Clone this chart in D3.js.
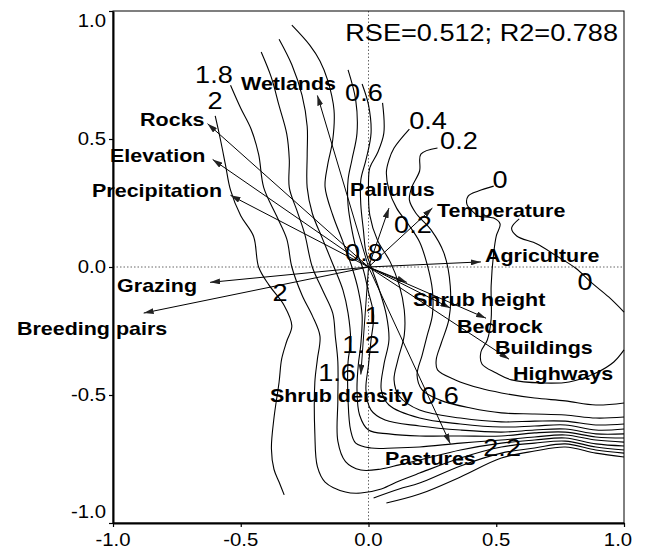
<!DOCTYPE html>
<html>
<head>
<meta charset="utf-8">
<style>
  body { margin: 0; background: #fff; }
  svg text { font-family: "Liberation Sans", Arial, sans-serif; fill: #000; }
  .contour { fill: none; stroke: #000; stroke-width: 1.1; }
  .arrow { stroke: #000; stroke-width: 1; }
</style>
</head>
<body>
<div id="canvas"></div>
<script src="https://cdn.jsdelivr.net/npm/d3@7"></script>
<script>
var xTicks = [-1, -0.5, 0, 0.5, 1];
var xTickLabels = ["-1.0", "-0.5", "0.0", "0.5", "1.0"];
var yTicks = [-1, -0.5, 0, 0.5, 1];
var yTickLabels = ["-1.0", "-0.5", "0.0", "0.5", "1.0"];

var fitText = "RSE=0.512; R2=0.788";

// explanatory variables (arrow tips) and where their names sit
var variables = ["Wetlands", "Rocks", "Elevation", "Precipitation", "Paliurus", "Temperature",
  "Agriculture", "Shrub height", "Bedrock", "Buildings", "Highways", "Grazing",
  "Breeding pairs", "Shrub density", "Pastures"];
var arrowTips = [[-0.20, 0.67], [-0.63, 0.56], [-0.61, 0.42], [-0.54, 0.28], [0.08, 0.23], [0.25, 0.23],
  [0.44, 0.02], [0.15, -0.06], [0.32, -0.16], [0.46, -0.20], [0.55, -0.36], [-0.62, -0.06],
  [-0.88, -0.18], [-0.03, -0.42], [0.32, -0.69]];
var labelAt = [[-0.499, 0.719], [-0.894, 0.578], [-1.012, 0.438], [-1.082, 0.301], [-0.072, 0.305], [0.268, 0.223],
  [0.456, 0.047], [0.174, -0.125], [0.346, -0.230], [0.495, -0.313], [0.566, -0.414], [-0.984, -0.070],
  [-1.376, -0.238], [-0.386, -0.500], [0.065, -0.746]];

// contour isolines of the fitted surface
var c20 = [[-0.60,0.59],[-0.58,0.50],[-0.56,0.40],[-0.54,0.30],[-0.50,0.20],[-0.45,0.12],[-0.43,0.00],[-0.39,-0.07],[-0.33,-0.15],[-0.30,-0.23],[-0.32,-0.29],[-0.34,-0.36],[-0.35,-0.45],[-0.37,-0.59],[-0.38,-0.71],[-0.37,-0.79],[-0.35,-0.84],[-0.33,-0.89]];
var c20b = [[0.02,-0.902],[0.12,-0.867],[0.20,-0.844],[0.36,-0.777],[0.52,-0.727],[0.65,-0.707],[0.77,-0.691],[0.89,-0.715],[1.00,-0.727]];
var c22 = [[0.07,-0.922],[0.20,-0.887],[0.36,-0.82],[0.52,-0.746],[0.65,-0.719],[0.77,-0.703],[0.89,-0.727],[1.00,-0.742]];
var c18 = [[-0.54,0.71],[-0.50,0.62],[-0.46,0.54],[-0.43,0.44],[-0.41,0.31],[-0.36,0.20],[-0.32,0.11],[-0.30,0.00],[-0.26,-0.11],[-0.22,-0.19],[-0.19,-0.27],[-0.20,-0.36],[-0.21,-0.45],[-0.21,-0.65],[-0.20,-0.78],[-0.17,-0.84],[-0.09,-0.879],[-0.03,-0.883],[0.05,-0.867],[0.12,-0.836],[0.20,-0.805],[0.36,-0.746],[0.52,-0.703],[0.65,-0.688],[0.77,-0.680],[0.89,-0.703],[1.00,-0.715]];
var c16 = [[-0.42,0.84],[-0.38,0.74],[-0.35,0.63],[-0.32,0.52],[-0.31,0.42],[-0.31,0.31],[-0.28,0.22],[-0.25,0.13],[-0.22,0.00],[-0.18,-0.09],[-0.14,-0.18],[-0.13,-0.27],[-0.12,-0.37],[-0.12,-0.52],[-0.12,-0.68],[-0.09,-0.76],[-0.03,-0.793],[0.05,-0.789],[0.12,-0.773],[0.20,-0.754],[0.36,-0.715],[0.52,-0.688],[0.65,-0.676],[0.77,-0.668],[0.89,-0.691],[1.00,-0.699]];
var c14 = [[-0.35,0.89],[-0.30,0.79],[-0.26,0.67],[-0.24,0.55],[-0.24,0.44],[-0.24,0.31],[-0.22,0.21],[-0.18,0.11],[-0.135,0.00],[-0.10,-0.09],[-0.08,-0.18],[-0.07,-0.29],[-0.08,-0.37],[-0.08,-0.52],[-0.07,-0.637],[-0.05,-0.688],[0.01,-0.707],[0.10,-0.707],[0.20,-0.703],[0.36,-0.688],[0.52,-0.676],[0.65,-0.664],[0.77,-0.656],[0.89,-0.676],[1.00,-0.684]];
var c12 = [[-0.30,0.945],[-0.23,0.867],[-0.19,0.805],[-0.16,0.73],[-0.135,0.613],[-0.14,0.496],[-0.16,0.398],[-0.17,0.313],[-0.14,0.203],[-0.10,0.098],[-0.065,0.00],[-0.04,-0.09],[-0.025,-0.188],[-0.03,-0.301],[-0.04,-0.383],[-0.045,-0.48],[-0.035,-0.578],[0.00,-0.637],[0.08,-0.652],[0.20,-0.66],[0.36,-0.66],[0.52,-0.66],[0.65,-0.648],[0.77,-0.645],[0.89,-0.664],[1.00,-0.668]];
var c10 = [[-0.08,0.77],[-0.05,0.652],[-0.045,0.523],[-0.065,0.418],[-0.08,0.34],[-0.08,0.242],[-0.065,0.145],[-0.045,0.059],[-0.02,-0.012],[0.00,-0.098],[0.02,-0.188],[0.01,-0.285],[0.00,-0.383],[-0.01,-0.48],[0.01,-0.559],[0.065,-0.598],[0.20,-0.621],[0.36,-0.637],[0.52,-0.645],[0.65,-0.637],[0.77,-0.633],[0.89,-0.652],[1.00,-0.652]];
var c08 = [[-0.025,0.715],[0.00,0.633],[0.01,0.523],[-0.01,0.418],[-0.03,0.34],[-0.03,0.242],[-0.02,0.145],[-0.01,0.059],[0.015,-0.012],[0.045,-0.098],[0.07,-0.188],[0.08,-0.285],[0.06,-0.383],[0.05,-0.48],[0.08,-0.539],[0.20,-0.59],[0.36,-0.613],[0.52,-0.625],[0.65,-0.621],[0.77,-0.617],[0.89,-0.637],[1.00,-0.633]];
var c06 = [[0.055,0.641],[0.06,0.523],[0.035,0.445],[0.005,0.387],[0.00,0.301],[0.005,0.203],[0.035,0.105],[0.085,0.02],[0.12,-0.07],[0.14,-0.168],[0.14,-0.266],[0.115,-0.363],[0.10,-0.441],[0.12,-0.504],[0.20,-0.559],[0.36,-0.59],[0.52,-0.605],[0.65,-0.602],[0.77,-0.602],[0.89,-0.617],[1.00,-0.613]];
var c04 = [[0.16,0.539],[0.10,0.465],[0.08,0.418],[0.07,0.371],[0.08,0.301],[0.11,0.23],[0.155,0.168],[0.20,0.098],[0.23,0.008],[0.25,-0.09],[0.25,-0.188],[0.23,-0.266],[0.21,-0.344],[0.19,-0.422],[0.21,-0.48],[0.28,-0.52],[0.40,-0.551],[0.52,-0.57],[0.65,-0.574],[0.77,-0.578],[0.89,-0.59],[1.00,-0.586]];
var c02 = [[0.27,0.465],[0.205,0.441],[0.20,0.375],[0.17,0.313],[0.16,0.262],[0.185,0.211],[0.245,0.145],[0.295,0.055],[0.32,-0.074],[0.315,-0.203],[0.285,-0.297],[0.265,-0.363],[0.27,-0.402],[0.34,-0.441],[0.435,-0.473],[0.52,-0.492],[0.65,-0.512],[0.77,-0.523],[0.89,-0.539],[1.00,-0.531]];
var c00a = [[0.49,0.316],[0.43,0.297],[0.39,0.277],[0.385,0.246],[0.405,0.219],[0.43,0.199],[0.49,0.191],[0.515,0.168],[0.50,0.121],[0.49,0.055],[0.48,-0.074],[0.48,-0.203],[0.465,-0.285],[0.44,-0.332],[0.444,-0.379],[0.50,-0.414],[0.56,-0.441],[0.68,-0.453],[0.785,-0.449],[0.89,-0.414],[0.96,-0.371],[1.00,-0.324]];
var c00b = [[0.59,0.188],[0.56,0.152],[0.58,0.121],[0.66,0.09],[0.73,0.047],[0.81,-0.004],[0.875,-0.063],[0.94,-0.117],[1.00,-0.176]];

var contourLines = [c20, c20b, c22, c18, c16, c14, c12, c10, c08, c06, c04, c02, c00a, c00b];

var contourLabels = ["1.8", "2", "0.6", "0.4", "0.2", "0", "0.2", "0.8", "0", "2", "1", "1.2", "1.6", "0.6", "2.2"];
var contourLabelAt = [[-0.605, 0.754], [-0.601, 0.652], [-0.018, 0.684], [0.233, 0.574], [0.354, 0.496], [0.515, 0.344],
  [0.174, 0.168], [-0.018, 0.059], [0.847, -0.055], [-0.346, -0.098], [0.014, -0.188], [-0.029, -0.301],
  [-0.123, -0.410], [0.280, -0.500], [0.523, -0.703]];

(function () {
  var width = 650, height = 551;
  var stretch = 1.13; // the source picture is a bit wider than tall

  var x = d3.scaleLinear().domain([-1, 1]).range([113, 624]);
  var y = d3.scaleLinear().domain([-1, 1]).range([523, 11]);

  var svg = d3.select('#canvas').append('svg')
    .attr('width', width)
    .attr('height', height);

  svg.append('defs').append('marker')
    .attr('id', 'head')
    .attr('viewBox', '0 0 10 6')
    .attr('refX', 10).attr('refY', 3)
    .attr('markerWidth', 10).attr('markerHeight', 6)
    .attr('markerUnits', 'userSpaceOnUse')
    .attr('orient', 'auto')
    .append('path')
    .attr('d', 'M0,0L10,3L0,6Z')
    .attr('fill', '#222');

  var addText = function (g, px, py, str, size, anchor, weight) {
    return g.append('text')
      .attr('transform', 'translate(' + px + ',' + py + ') scale(' + stretch + ',1)')
      .attr('dy', '0.36em')
      .attr('text-anchor', anchor)
      .style('font-size', size + 'px')
      .style('font-weight', weight || 'normal')
      .text(str);
  };

  // zero lines
  svg.append('line')
    .attr('x1', x(0)).attr('x2', x(0)).attr('y1', y(1)).attr('y2', y(-1))
    .attr('stroke', '#666').attr('stroke-dasharray', '1.5,2');
  svg.append('line')
    .attr('x1', x(-1)).attr('x2', x(1)).attr('y1', y(0)).attr('y2', y(0))
    .attr('stroke', '#666').attr('stroke-dasharray', '1.5,2');

  // contours
  var line = d3.line()
    .x(function (d) { return x(d[0]); })
    .y(function (d) { return y(d[1]); })
    .curve(d3.curveCatmullRom.alpha(0.5));

  svg.append('g').selectAll('path')
    .data(contourLines)
    .enter().append('path')
    .attr('class', 'contour')
    .attr('d', line);

  // frame
  svg.append('rect')
    .attr('x', x(-1)).attr('y', y(1))
    .attr('width', x(1) - x(-1)).attr('height', y(-1) - y(1))
    .attr('fill', 'none').attr('stroke', '#000').attr('stroke-width', 1);

  var xAxis = svg.append('g')
    .attr('transform', 'translate(0,' + y(-1) + ')')
    .call(d3.axisBottom(x).tickValues(xTicks).tickSize(4).tickSizeOuter(0).tickFormat(''));
  var yAxis = svg.append('g')
    .attr('transform', 'translate(' + x(-1) + ',0)')
    .call(d3.axisLeft(y).tickValues(yTicks).tickSize(4).tickSizeOuter(0).tickFormat(''));
  xAxis.select('.domain').attr('stroke-width', 2);
  yAxis.select('.domain').attr('stroke-width', 2);
  svg.selectAll('.tick line').attr('stroke-width', 1.2);

  var ticks = svg.append('g');
  xTicks.forEach(function (v, i) {
    var px = Math.min(x(v), x(1) - 6);
    addText(ticks, px, 540, xTickLabels[i], 18, 'middle');
  });
  yTicks.forEach(function (v, i) {
    var py = Math.min(Math.max(y(v), y(1) + 10), y(-1) - 11);
    addText(ticks, 106, py, yTickLabels[i], 18, 'end');
  });

  // arrows
  svg.append('g').selectAll('line')
    .data(arrowTips)
    .enter().append('line')
    .attr('class', 'arrow')
    .attr('x1', x(0)).attr('y1', y(0))
    .attr('x2', function (d) { return x(d[0]); })
    .attr('y2', function (d) { return y(d[1]); })
    .attr('marker-end', 'url(#head)');

  // contour labels
  var cl = svg.append('g');
  contourLabels.forEach(function (t, i) {
    addText(cl, x(contourLabelAt[i][0]), y(contourLabelAt[i][1]), t, 24, 'middle');
  });

  // variable names
  var vl = svg.append('g');
  variables.forEach(function (t, i) {
    addText(vl, x(labelAt[i][0]), y(labelAt[i][1]), t, 19, 'start', 'bold');
  });

  addText(svg, x(1) - 6, y(1) + 21, fitText, 24, 'end');
})();
</script>
</body>
</html>
